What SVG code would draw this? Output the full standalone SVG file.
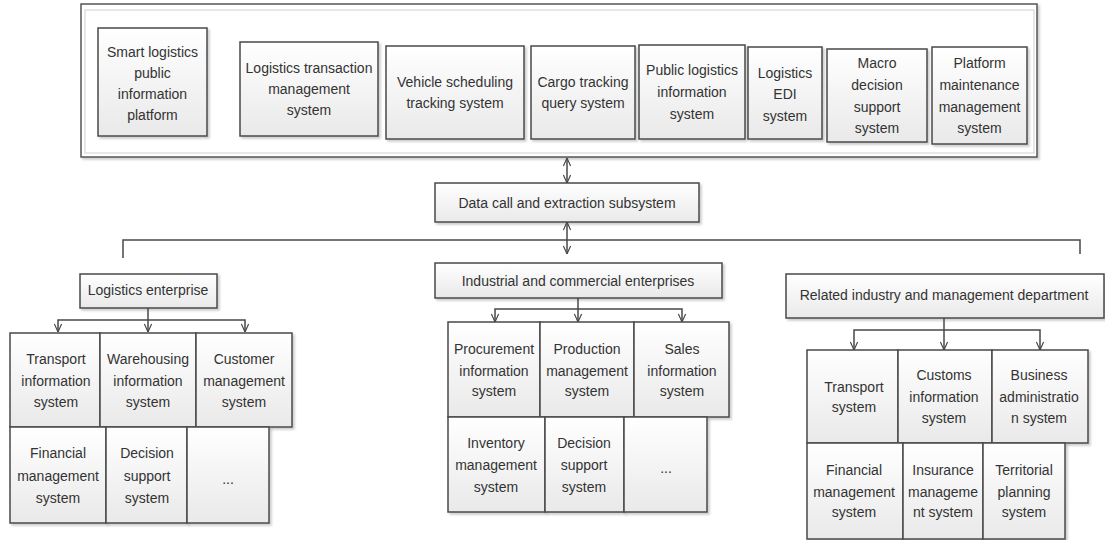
<svg xmlns="http://www.w3.org/2000/svg" width="1105" height="540" viewBox="0 0 1105 540">
<style>
.b{fill:url(#g);stroke:#484848;stroke-width:1.5;filter:url(#sh)}
.t{font-family:"Liberation Sans",Arial,sans-serif;font-size:14px;fill:#333;text-anchor:middle}
.c{fill:none;stroke:#484848;stroke-width:1.5}
.a{marker-end:url(#ar)}
.d{marker-start:url(#ar);marker-end:url(#ar)}
</style>
<defs>
<linearGradient id="g" x1="0" y1="0" x2="0" y2="1"><stop offset="0" stop-color="#ffffff"/><stop offset="1" stop-color="#e9e9e9"/></linearGradient>
<filter id="sh" x="-10%" y="-10%" width="130%" height="130%"><feDropShadow dx="2" dy="2" stdDeviation="1" flood-color="#999" flood-opacity="0.5"/></filter>
<marker id="ar" viewBox="0 0 10 10" refX="10" refY="5" markerWidth="9" markerHeight="9" markerUnits="userSpaceOnUse" orient="auto-start-reverse"><path d="M1,1 L10,5 L1,9" fill="none" stroke="#484848" stroke-width="1.3"/></marker>
</defs>
<rect width="1105" height="540" fill="#fff"/>
<g id="frame">
<rect x="81" y="4" width="956" height="153" fill="#fff" stroke="#555" stroke-width="1.5" filter="url(#sh)"/>
<rect x="85" y="10" width="949" height="143" fill="none" stroke="#cfcfcf" stroke-width="1"/>
</g>
<g id="n-smart"><rect class="b" x="98" y="28" width="109" height="108"/><text class="t"><tspan x="152.5" y="57">Smart logistics</tspan><tspan x="152.5" y="78">public</tspan><tspan x="152.5" y="99">information</tspan><tspan x="152.5" y="120">platform</tspan></text></g>
<g id="n-ltm"><rect class="b" x="240" y="42" width="138" height="94"/><text class="t"><tspan x="309" y="73">Logistics transaction</tspan><tspan x="309" y="94">management</tspan><tspan x="309" y="115">system</tspan></text></g>
<g id="n-vehicle"><rect class="b" x="386" y="46" width="138" height="93"/><text class="t"><tspan x="455" y="87">Vehicle scheduling</tspan><tspan x="455" y="108">tracking system</tspan></text></g>
<g id="n-cargo"><rect class="b" x="531" y="46" width="104" height="93"/><text class="t"><tspan x="583" y="87">Cargo tracking</tspan><tspan x="583" y="108">query system</tspan></text></g>
<g id="n-public"><rect class="b" x="639" y="45" width="106" height="94"/><text class="t"><tspan x="692" y="75">Public logistics</tspan><tspan x="692" y="97">information</tspan><tspan x="692" y="119">system</tspan></text></g>
<g id="n-edi"><rect class="b" x="748" y="47" width="74" height="92"/><text class="t"><tspan x="785" y="78">Logistics</tspan><tspan x="785" y="99">EDI</tspan><tspan x="785" y="121">system</tspan></text></g>
<g id="n-macro"><rect class="b" x="827" y="49" width="100" height="93"/><text class="t"><tspan x="877" y="68">Macro</tspan><tspan x="877" y="90">decision</tspan><tspan x="877" y="112">support</tspan><tspan x="877" y="133">system</tspan></text></g>
<g id="n-platform"><rect class="b" x="932" y="47" width="95" height="97"/><text class="t"><tspan x="979.5" y="68">Platform</tspan><tspan x="979.5" y="90">maintenance</tspan><tspan x="979.5" y="112">management</tspan><tspan x="979.5" y="133">system</tspan></text></g>
<g id="n-datacall"><rect class="b" x="435" y="183" width="264" height="39"/><text class="t" x="567" y="208">Data call and extraction subsystem</text></g>
<g id="n-logent"><rect class="b" x="80" y="274" width="137" height="34"/><text class="t" x="148" y="295">Logistics enterprise</text></g>
<g id="n-le1"><rect class="b" x="10" y="333" width="90" height="94"/><text class="t"><tspan x="56" y="364">Transport</tspan><tspan x="56" y="386">information</tspan><tspan x="56" y="407">system</tspan></text></g>
<g id="n-le2"><rect class="b" x="100" y="333" width="96" height="94"/><text class="t"><tspan x="148" y="364">Warehousing</tspan><tspan x="148" y="386">information</tspan><tspan x="148" y="407">system</tspan></text></g>
<g id="n-le3"><rect class="b" x="196" y="333" width="96" height="94"/><text class="t"><tspan x="244" y="364">Customer</tspan><tspan x="244" y="386">management</tspan><tspan x="244" y="407">system</tspan></text></g>
<g id="n-le4"><rect class="b" x="10" y="427" width="96" height="96"/><text class="t"><tspan x="58" y="458">Financial</tspan><tspan x="58" y="481">management</tspan><tspan x="58" y="503">system</tspan></text></g>
<g id="n-le5"><rect class="b" x="106" y="427" width="81" height="96"/><text class="t"><tspan x="147" y="458">Decision</tspan><tspan x="147" y="481">support</tspan><tspan x="147" y="503">system</tspan></text></g>
<g id="n-le6"><rect class="b" x="187" y="427" width="82" height="96"/><text class="t" x="228" y="484">...</text></g>
<g id="n-indent"><rect class="b" x="435" y="263" width="287" height="35"/><text class="t" x="578" y="286">Industrial and commercial enterprises</text></g>
<g id="n-ie1"><rect class="b" x="448" y="322" width="92" height="95"/><text class="t"><tspan x="494" y="354">Procurement</tspan><tspan x="494" y="376">information</tspan><tspan x="494" y="396">system</tspan></text></g>
<g id="n-ie2"><rect class="b" x="540" y="322" width="94" height="95"/><text class="t"><tspan x="587" y="354">Production</tspan><tspan x="587" y="376">management</tspan><tspan x="587" y="396">system</tspan></text></g>
<g id="n-ie3"><rect class="b" x="634" y="322" width="95" height="95"/><text class="t"><tspan x="682" y="354">Sales</tspan><tspan x="682" y="376">information</tspan><tspan x="682" y="396">system</tspan></text></g>
<g id="n-ie4"><rect class="b" x="448" y="417" width="97" height="95"/><text class="t"><tspan x="496" y="448">Inventory</tspan><tspan x="496" y="470">management</tspan><tspan x="496" y="492">system</tspan></text></g>
<g id="n-ie5"><rect class="b" x="545" y="417" width="79" height="95"/><text class="t"><tspan x="584" y="448">Decision</tspan><tspan x="584" y="470">support</tspan><tspan x="584" y="492">system</tspan></text></g>
<g id="n-ie6"><rect class="b" x="624" y="417" width="83" height="95"/><text class="t" x="666" y="473">...</text></g>
<g id="n-related"><rect class="b" x="786" y="274" width="318" height="44"/><text class="t" x="944" y="300">Related industry and management department</text></g>
<g id="n-re1"><rect class="b" x="807" y="350" width="91" height="93"/><text class="t"><tspan x="854" y="392">Transport</tspan><tspan x="854" y="412">system</tspan></text></g>
<g id="n-re2"><rect class="b" x="898" y="350" width="94" height="93"/><text class="t"><tspan x="944" y="380">Customs</tspan><tspan x="944" y="402">information</tspan><tspan x="944" y="423">system</tspan></text></g>
<g id="n-re3"><rect class="b" x="992" y="350" width="96" height="93"/><text class="t"><tspan x="1039" y="380">Business</tspan><tspan x="1039" y="402">administratio</tspan><tspan x="1039" y="423">n system</tspan></text></g>
<g id="n-re4"><rect class="b" x="807" y="443" width="96" height="96"/><text class="t"><tspan x="854" y="475">Financial</tspan><tspan x="854" y="497">management</tspan><tspan x="854" y="517">system</tspan></text></g>
<g id="n-re5"><rect class="b" x="903" y="443" width="80" height="96"/><text class="t"><tspan x="943" y="475">Insurance</tspan><tspan x="943" y="497">manageme</tspan><tspan x="943" y="517">nt system</tspan></text></g>
<g id="n-re6"><rect class="b" x="983" y="443" width="82" height="96"/><text class="t"><tspan x="1024" y="475">Territorial</tspan><tspan x="1024" y="497">planning</tspan><tspan x="1024" y="517">system</tspan></text></g>
<g id="connectors">
<path class="c d" d="M567,158 V183"/>
<path class="c d" d="M567,222 V254"/>
<path class="c" d="M123,258 V240 H1080 V254"/>
<path class="c a" d="M148,308 V332"/>
<path class="c a" d="M148,320 H58 V332"/>
<path class="c a" d="M148,320 H245 V332"/>
<path class="c a" d="M578,298 V322"/>
<path class="c a" d="M578,309 H495 V322"/>
<path class="c a" d="M578,309 H682 V322"/>
<path class="c a" d="M944,318 V350"/>
<path class="c a" d="M944,330 H854 V350"/>
<path class="c a" d="M944,330 H1040 V350"/>
</g>
</svg>
